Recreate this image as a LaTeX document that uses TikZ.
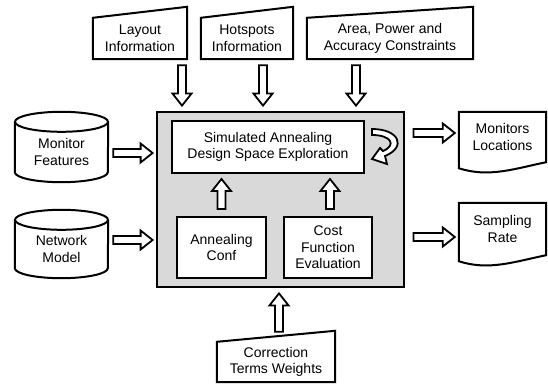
\documentclass[tikz,border=0pt]{standalone}
\usepackage{fontspec}
\setmainfont{Liberation Sans}
\usepackage{tikz}
\usetikzlibrary{calc}
\definecolor{blockgray}{RGB}{217,217,217}

% hollow block arrow from #1 to #2
\newcommand{\hollowarrow}[2]{%
  \coordinate (ha-b) at ($(#2)!12pt!(#1)$);
  \draw[blockarrow] ($(#1)!4pt!-90:(#2)$) -- ($(ha-b)!4pt!90:(#1)$)
    -- ($(ha-b)!9.5pt!90:(#1)$) -- (#2) -- ($(ha-b)!9.5pt!-90:(#1)$)
    -- ($(ha-b)!4pt!-90:(#1)$) -- ($(#1)!4pt!90:(#2)$) -- cycle;}

\begin{document}
\begin{tikzpicture}[x=1pt,y=1pt,
  boxline/.style={draw=black,line width=2pt,line join=miter},
  txt/.style={align=center,font=\fontsize{14}{16.5}\selectfont,inner sep=2pt},
  inbox/.style={txt,minimum height=41pt},
  procbox/.style={txt,boxline,fill=white},
  blockarrow/.style={draw=black,fill=white,line width=1.8pt,line join=miter}]
\useasboundingbox (0,0) rectangle (548,383);
% Drawing the exploration block
\node[boxline,line width=2.8pt,fill=blockgray,minimum width=247pt,minimum height=175pt] (main) at (280.5,183.5) {};
\node[procbox,minimum width=192pt,minimum height=52pt] (sa) at (268,236) {Simulated Annealing\\Design Space Exploration};
\node[procbox,minimum width=89pt,minimum height=61pt] (conf) at (221.5,135.5) {Annealing\\Conf};
\node[procbox,minimum width=88pt,minimum height=61pt] (cost) at (328,135.5) {Cost\\Function\\Evaluation};
% Drawing manual inputs
\node[inbox,minimum width=94pt] (layout) at (140,344.5) {Layout\\Information};
\node[inbox,minimum width=92pt] (hotspot) at (247,344.5) {Hotspots\\Information};
\node[inbox,minimum width=166pt] (area) at (390,344.5) {Area, Power and\\Accuracy Constraints};
\node[inbox,minimum width=118pt,minimum height=40pt] (corr) at (276,21) {Correction\\Terms Weights};
\foreach \n in {layout,hotspot,area,corr}
  \draw[boxline] (\n.south west) -- (\n.north west) -- ([yshift=11pt]\n.north east) -- (\n.south east) -- cycle;
% Drawing databases
\node[txt,minimum width=93pt,minimum height=40pt] (feat) at (61.5,231) {Monitor\\Features};
\node[txt,minimum width=93pt,minimum height=38pt] (netmodel) at (61.5,134) {Network\\Model};
\foreach \n in {feat,netmodel} {
  \draw[boxline] ([yshift=10pt]\n.north west) -- (\n.south west)
    arc[start angle=180,end angle=360,x radius=46.5pt,y radius=10pt] -- ([yshift=10pt]\n.north east);
  \draw[boxline] ([yshift=10pt]\n.north) ellipse[x radius=46.5pt,y radius=10pt];
}
% Drawing output documents
\node[txt,minimum width=87pt,minimum height=50pt] (monloc) at (502.5,246) {Monitors\\Locations};
\node[txt,minimum width=87pt,minimum height=52pt] (rate) at (502.5,154) {Sampling\\Rate};
\foreach \n in {monloc,rate}
  \draw[boxline] ([yshift=-6pt]\n.south west) -- (\n.north west) -- (\n.north east) -- (\n.south east)
    .. controls +(-30,-6) and +(30,-10) .. ([yshift=-6pt]\n.south west) -- cycle;
% Done with shapes; drawing arrows
\coordinate (layout-tail) at ([xshift=42pt,yshift=-6pt]layout.south);
\coordinate (hotspot-tail) at ([xshift=16pt,yshift=-6pt]hotspot.south);
\coordinate (area-tail) at ([xshift=-34pt,yshift=-6pt]area.south);
\hollowarrow{layout-tail}{$(layout-tail |- main.north)+(0,5)$}
\hollowarrow{hotspot-tail}{$(hotspot-tail |- main.north)+(0,5)$}
\hollowarrow{area-tail}{$(area-tail |- main.north)+(0,5)$}
\coordinate (feat-tail) at ([xshift=5pt,yshift=-1pt]feat.east);
\coordinate (netmodel-tail) at ([xshift=5pt,yshift=9pt]netmodel.east);
\hollowarrow{feat-tail}{$(feat-tail -| main.west)+(-3,0)$}
\hollowarrow{netmodel-tail}{$(netmodel-tail -| main.west)+(-3,0)$}
\coordinate (monloc-tip) at ([xshift=-4pt,yshift=4pt]monloc.west);
\coordinate (rate-tip) at ([xshift=-4pt,yshift=-8pt]rate.west);
\hollowarrow{$(monloc-tip -| main.east)+(8,0)$}{monloc-tip}
\hollowarrow{$(rate-tip -| main.east)+(8,0)$}{rate-tip}
\coordinate (conf-tail) at ([yshift=7pt]conf.north);
\coordinate (cost-tail) at ([xshift=2pt,yshift=7pt]cost.north);
\hollowarrow{conf-tail}{$(conf-tail |- sa.south)+(0,-5)$}
\hollowarrow{cost-tail}{$(cost-tail |- sa.south)+(0,-5)$}
\coordinate (corr-tail) at ([xshift=3pt,yshift=10pt]corr.north);
\hollowarrow{corr-tail}{$(corr-tail |- main.south)+(0,-5)$}
% Loop on the exploration box
\begin{scope}[shift={(sa.east)}]
\draw[blockarrow] (7,18) .. controls (34,18) and (42,0) .. (20,-9) -- (22,-17) -- (7,-12)
  -- (15,-1) -- (18,-4) .. controls (32,2) and (26,12) .. (7,12) -- cycle;
\end{scope}
\end{tikzpicture}
\end{document}
